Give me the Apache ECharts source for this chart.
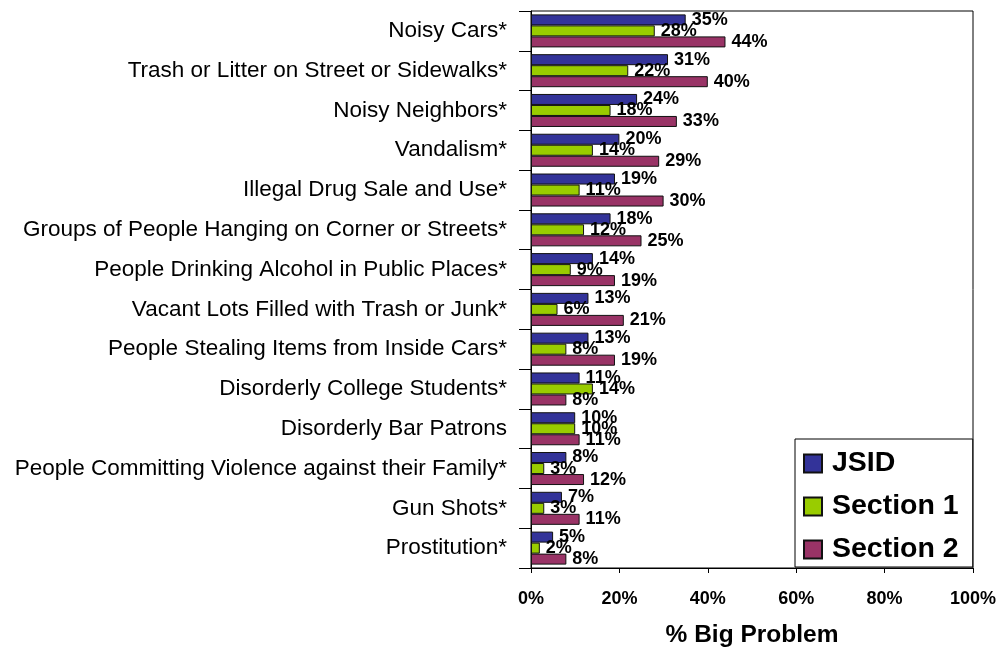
<!DOCTYPE html>
<html>
<head>
<meta charset="utf-8">
<script src="https://cdn.jsdelivr.net/npm/echarts@6/dist/echarts.min.js"></script>
<style>
  html, body { margin: 0; padding: 0; background: #ffffff; }
  #chart { width: 1002px; height: 650px; }
</style>
</head>
<body>
<div id="chart"></div>
<script>
var categories = [
  'Noisy Cars*',
  'Trash or Litter on Street or Sidewalks*',
  'Noisy Neighbors*',
  'Vandalism*',
  'Illegal Drug Sale and Use*',
  'Groups of People Hanging on Corner or Streets*',
  'People Drinking Alcohol in Public Places*',
  'Vacant Lots Filled with Trash or Junk*',
  'People Stealing Items from Inside Cars*',
  'Disorderly College Students*',
  'Disorderly Bar Patrons',
  'People Committing Violence against their Family*',
  'Gun Shots*',
  'Prostitution*'
];
var jsid     = [35, 31, 24, 20, 19, 18, 14, 13, 13, 11, 10, 8, 7, 5];
var section1 = [28, 22, 18, 14, 11, 12, 9, 6, 8, 14, 10, 3, 3, 2];
var section2 = [44, 40, 33, 29, 30, 25, 19, 21, 19, 8, 11, 12, 11, 8];
var seriesNames = ['JSID', 'Section 1', 'Section 2'];
var xTickLabels = ['0%', '20%', '40%', '60%', '80%', '100%'];
var axisTitle = '% Big Problem';

var colors = ['#333399', '#99CC00', '#993366'];
var FONT = '"Liberation Sans", Arial, sans-serif';

function makeSeries(name, data, color) {
  return {
    name: name,
    type: 'bar',
    data: data,
    barGap: '0%',
    barCategoryGap: '17%',
    itemStyle: { color: color, borderColor: '#111111', borderWidth: 1 },
    label: {
      show: true,
      position: 'right',
      distance: 6,
      formatter: '{c}%',
      color: '#000000',
      fontFamily: FONT,
      fontWeight: 'bold',
      fontSize: 18
    },
    animation: false
  };
}

var chart = echarts.init(document.getElementById('chart'), null, { renderer: 'canvas' });
chart.setOption({
  backgroundColor: '#ffffff',
  animation: false,
  grid: {
    left: 531, right: 29, top: 11, bottom: 82,
    outerBoundsMode: 'none',
    containLabel: false,
    show: true, borderColor: '#000000', borderWidth: 1, backgroundColor: 'transparent'
  },
  legend: {
    orient: 'vertical',
    left: 795,
    top: 439,
    backgroundColor: '#ffffff',
    borderColor: '#000000',
    borderWidth: 1,
    padding: [10, 14, 3, 8],
    itemWidth: 18,
    itemHeight: 18,
    itemGap: 14,
    icon: 'rect',
    data: seriesNames,
    textStyle: { fontFamily: FONT, fontWeight: 'bold', fontSize: 28.5, color: '#000000', lineHeight: 28, padding: [0, 0, 0, 5] }
  },
  xAxis: {
    type: 'value',
    min: 0,
    max: 100,
    interval: 20,
    name: axisTitle,
    nameLocation: 'middle',
    nameGap: 55,
    nameTextStyle: { fontFamily: FONT, fontWeight: 'bold', fontSize: 24.5, color: '#000000' },
    axisLine: { show: true, lineStyle: { color: '#000000', width: 1 } },
    axisTick: { show: true, length: 5, lineStyle: { color: '#000000' } },
    splitLine: { show: false },
    axisLabel: {
      margin: 22,
      color: '#000000',
      fontFamily: FONT,
      fontWeight: 'bold',
      fontSize: 18,
      formatter: function (v) { return xTickLabels[Math.round(v / 20)]; }
    }
  },
  yAxis: {
    type: 'category',
    inverse: true,
    data: categories,
    axisLine: { show: true, lineStyle: { color: '#000000', width: 1 } },
    axisTick: { show: true, length: 12, lineStyle: { color: '#000000' } },
    axisLabel: {
      margin: 24,
      color: '#000000',
      fontFamily: FONT,
      fontSize: 22.5
    }
  },
  series: [
    makeSeries(seriesNames[0], jsid, colors[0]),
    makeSeries(seriesNames[1], section1, colors[1]),
    makeSeries(seriesNames[2], section2, colors[2])
  ]
});
</script>
</body>
</html>
